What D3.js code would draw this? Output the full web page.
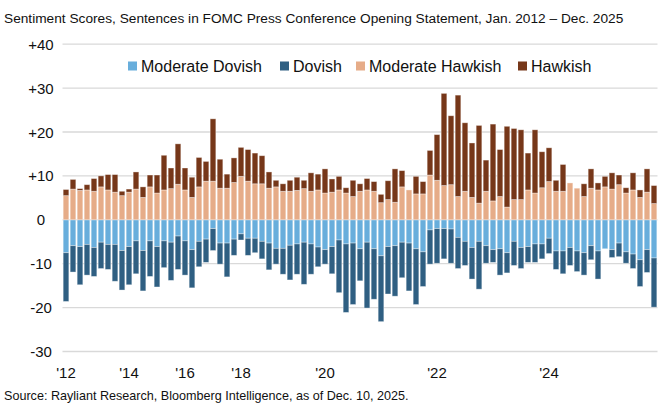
<!DOCTYPE html>
<html>
<head>
<meta charset="utf-8">
<script src="https://cdn.jsdelivr.net/npm/d3@7/dist/d3.min.js"></script>
<style>
  html, body { margin: 0; padding: 0; background: #fff; }
  svg { display: block; font-family: "Liberation Sans", Arial, sans-serif; }
</style>
</head>
<body>
<svg id="chart" width="670" height="420"></svg>
<script>
// FOMC press conferences (opening statements), Jan 2012 – Dec 2025
const categories = [
  "2012-01","2012-04","2012-06","2012-09","2012-12",
  "2013-03","2013-06","2013-09","2013-12",
  "2014-03","2014-06","2014-09","2014-12",
  "2015-03","2015-06","2015-09","2015-12",
  "2016-03","2016-06","2016-09","2016-12",
  "2017-03","2017-06","2017-09","2017-12",
  "2018-03","2018-06","2018-09","2018-12",
  "2019-01","2019-03","2019-05","2019-06","2019-07","2019-09","2019-10","2019-12",
  "2020-01","2020-03","2020-04","2020-06","2020-07","2020-09","2020-11","2020-12",
  "2021-01","2021-03","2021-04","2021-06","2021-07","2021-09","2021-11","2021-12",
  "2022-01","2022-03","2022-05","2022-06","2022-07","2022-09","2022-11","2022-12",
  "2023-02","2023-03","2023-05","2023-06","2023-07","2023-09","2023-11","2023-12",
  "2024-01","2024-03","2024-05","2024-06","2024-07","2024-09","2024-11","2024-12",
  "2025-01","2025-03","2025-05","2025-06","2025-07","2025-09","2025-10","2025-12"
];

const moderateHawkish = [
  5.5,7.0,6.7,6.8,6.5, 7.5,6.8,6.3,5.5, 6.3,7.0,5.1,7.5, 6.1,6.8,7.1,8.1,
  6.8,5.1,7.5,8.8, 8.8,7.2,7.2,8.5, 9.9,8.8,8.2,8.2,
  7.2,7.5,6.5,6.5,6.7,7.1,6.5,6.8,
  6.1,6.3,6.8,6.1,5.3,6.5,6.8,6.5,
  3.9,4.6,4.0,7.5,6.8,5.9,5.9,10.2,
  9.0,7.8,8.0,5.3,6.5,5.1,3.8,6.5,
  4.3,5.3,2.9,4.6,4.6,6.8,6.1,7.3,
  8.7,6.5,6.5,8.4,7.2,5.3,7.2,6.8,
  7.5,7.0,8.0,6.1,6.8,5.1,6.3,3.7
];
const hawkish = [
  1.4,2.2,0.4,1.2,2.9, 2.5,3.5,4.0,1.0, 0.7,3.9,2.4,2.7, 4.1,7.9,4.7,9.2,
  5.0,4.6,6.7,4.5, 14.2,6.6,3.2,5.6, 6.6,7.2,7.0,6.4,
  3.7,1.5,1.7,2.5,3.0,1.9,4.2,3.6,
  5.5,3.0,3.1,1.2,3.7,1.7,2.6,2.2,
  1.9,4.3,7.6,3.7,0,4.0,2.8,5.6,
  10.4,21.0,15.7,23.1,15.6,12.4,17.7,7.1,
  17.5,10.7,18.4,16.2,15.9,8.4,14.4,8.2,
  7.7,2.5,6.1,0,0,2.9,4.4,1.6,
  2.4,3.7,2.2,1.2,3.9,1.7,5.3,4.1
];
const moderateDovish = [
  -7.5,-5.9,-6.1,-5.6,-6.3, -5.1,-5.6,-5.6,-7.0, -6.1,-4.8,-7.0,-4.8, -6.1,-4.8,-5.1,-3.7,
  -4.8,-6.8,-4.9,-4.4, -2.0,-5.3,-5.3,-4.4, -3.2,-4.2,-4.2,-4.9,
  -5.3,-6.5,-6.5,-5.8,-5.5,-5.1,-5.5,-6.2,
  -6.8,-6.1,-4.6,-5.5,-5.3,-6.6,-5.1,-6.6,
  -8.2,-6.1,-5.9,-5.1,-5.3,-6.6,-7.3,-2.3,
  -2.0,-2.0,-2.1,-4.0,-4.9,-6.3,-4.9,-5.9,
  -6.8,-6.6,-7.5,-4.9,-6.3,-6.1,-5.5,-5.5,
  -4.2,-7.1,-7.1,-6.3,-7.1,-7.5,-5.9,-7.1,
  -6.6,-6.8,-5.3,-7.3,-7.8,-9.1,-6.8,-8.7
];
const dovish = [
  -11.1,-6.0,-8.7,-7.0,-6.6, -6.0,-5.7,-8.4,-9.0, -8.7,-7.5,-9.2,-8.1, -9.2,-6.1,-8.7,-7.6,
  -7.8,-8.7,-5.8,-5.3, -5.0,-4.8,-7.7,-3.7, -1.4,-3.9,-3.3,-4.0,
  -6.1,-3.6,-5.9,-7.9,-6.9,-9.6,-6.9,-4.5,
  -3.3,-6.2,-12.0,-15.6,-14.0,-7.3,-15.0,-11.5,
  -15.0,-10.8,-11.5,-8.1,-10.9,-12.7,-7.9,-7.8,
  -7.9,-6.9,-7.8,-7.1,-5.5,-7.2,-10.9,-4.0,
  -2.9,-6.0,-4.6,-5.5,-4.8,-3.6,-4.2,-3.4,
  -3.5,-4.2,-5.2,-4.1,-4.7,-5.1,-3.2,-6.4,
  0,-1.8,-3.1,-2.6,-3.3,-6.1,-5.2,-11.2
];

const yTicks = [40, 30, 20, 10, 0, -10, -20, -30];
const xTickCategories = ["2012-01","2014-03","2016-03","2018-03","2020-01","2022-01","2024-01"];
const xTickLabels = ["'12","'14","'16","'18","'20","'22","'24"];

const seriesNames = ["Moderate Dovish","Dovish","Moderate Hawkish","Hawkish"];
const seriesColors = ["#68AEDC","#2F5F82","#E6AC88","#763719"];

const svg = d3.select("#chart");

// Subtitle
svg.append("text")
  .attr("x", 4).attr("y", 23)
  .attr("font-size", 13.7).attr("fill", "#111")
  .text("Sentiment Scores, Sentences in FOMC Press Conference Opening Statement, Jan. 2012 \u2013 Dec. 2025");

// Scales
const x = d3.scaleBand().domain(categories).range([62.5, 657.5]).paddingInner(0.19).paddingOuter(0.095);
const y = d3.scaleLinear().domain([-30, 40]).range([351.5, 44.2]);

// Gridlines
svg.append("g").selectAll("line").data(yTicks).join("line")
  .attr("x1", 62.5).attr("x2", 657.5)
  .attr("y1", d => y(d)).attr("y2", d => y(d))
  .attr("stroke", "#d9d9d9").attr("stroke-width", 1.3);

// Y labels
svg.append("g").selectAll("text").data(yTicks).join("text")
  .attr("x", 41).attr("y", d => y(d) + 5.5)
  .attr("text-anchor", "middle").attr("font-size", 15).attr("fill", "#111")
  .text(d => d > 0 ? "+" + d : String(d));

// Stack data
const rows = categories.map((c, i) => ({
  cat: c,
  segs: [
    { s: 0, y0: 0, y1: moderateDovish[i] },
    { s: 1, y0: moderateDovish[i], y1: moderateDovish[i] + dovish[i] },
    { s: 2, y0: 0, y1: moderateHawkish[i] },
    { s: 3, y0: moderateHawkish[i], y1: moderateHawkish[i] + hawkish[i] }
  ]
}));

const barG = svg.append("g");
rows.forEach(r => {
  barG.selectAll(null).data(r.segs.filter(s => s.y1 !== s.y0)).join("rect")
    .attr("x", x(r.cat))
    .attr("width", x.bandwidth())
    .attr("y", s => Math.min(y(s.y0), y(s.y1)))
    .attr("height", s => Math.abs(y(s.y0) - y(s.y1)))
    .attr("fill", s => seriesColors[s.s])
    .attr("stroke", "#ffffff").attr("stroke-opacity", 0.45).attr("stroke-width", 0.8);
});

// X labels
svg.append("g").selectAll("text").data(xTickCategories).join("text")
  .attr("x", (d) => x(d) + x.bandwidth() / 2)
  .attr("y", 378)
  .attr("text-anchor", "middle").attr("font-size", 15).attr("fill", "#111")
  .text((d, i) => xTickLabels[i]);

// Legend
const legendX = [128, 280, 356, 518];
const lg = svg.append("g");
seriesNames.forEach((n, i) => {
  lg.append("rect").attr("x", legendX[i]).attr("y", 61.5).attr("width", 9).attr("height", 9)
    .attr("fill", seriesColors[i]);
  lg.append("text").attr("x", legendX[i] + 13).attr("y", 72)
    .attr("font-size", 16).attr("fill", "#111").text(n);
});

// Source
svg.append("text")
  .attr("x", 4).attr("y", 400)
  .attr("font-size", 12.6).attr("fill", "#111")
  .text("Source: Rayliant Research, Bloomberg Intelligence, as of Dec. 10, 2025.");
</script>
</body>
</html>
